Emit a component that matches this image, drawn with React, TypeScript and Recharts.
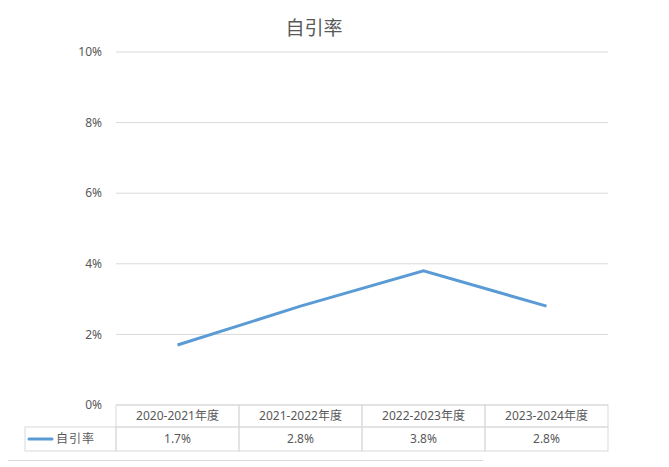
import React from 'react';
import { LineChart, Line, XAxis, YAxis, CartesianGrid } from 'recharts';

const categories = ['2020-2021年度', '2021-2022年度', '2022-2023年度', '2023-2024年度'];
const selfCitationRate = [1.7, 2.8, 3.8, 2.8];
const yTicks = [0, 2, 4, 6, 8, 10];
const seriesName = '自引率';
const title = '自引率';

const data = categories.map((c, i) => ({ category: c, value: selfCitationRate[i] }));

const FONT = "'Noto Sans', 'Noto Sans CJK SC', sans-serif";
const GRID = '#d9d9d9';
const TEXT = '#595959';
const LINE = '#5b9bd5';

const CELL_W = 123;
const TOP = 397;
const ROW1 = 22;
const ROW2 = 24;

const TableTick = (props: any) => {
  const { x, index, payload } = props;
  const left = x - CELL_W / 2;
  return (
    <g>
      <rect x={left} y={TOP} width={CELL_W} height={ROW1} fill="none" stroke={GRID} strokeWidth={1} />
      <rect x={left} y={TOP + ROW1} width={CELL_W} height={ROW2} fill="none" stroke={GRID} strokeWidth={1} />
      <text x={x} y={TOP + 15} textAnchor="middle" fontSize={12} fill={TEXT} fontFamily={FONT}>
        {payload.value}
      </text>
      <text x={x} y={TOP + ROW1 + 16} textAnchor="middle" fontSize={12} fill={TEXT} fontFamily={FONT}>
        {selfCitationRate[index].toFixed(1)}%
      </text>
      {index === 0 && (
        <g>
          <rect x={17} y={TOP + ROW1} width={left - 17} height={ROW2} fill="none" stroke={GRID} strokeWidth={1} />
          <line x1={21} y1={TOP + ROW1 + 12} x2={44} y2={TOP + ROW1 + 12} stroke={LINE} strokeWidth={3} strokeLinecap="round" />
          <text x={48} y={TOP + ROW1 + 16} fontSize={12} fill={TEXT} fontFamily={FONT} letterSpacing={1}>
            {seriesName}
          </text>
          <line x1={0} y1={452.5} x2={475} y2={452.5} stroke={GRID} strokeWidth={1} />
        </g>
      )}
    </g>
  );
};

export default function App() {
  return (
    <div style={{ width: 653, height: 455, position: 'relative' }}>
      <LineChart
        width={653}
        height={455}
        data={data}
        margin={{ top: 44, right: 53, bottom: 0, left: 0 }}
      >
        <text x={306} y={27} textAnchor="middle" fontSize={19} fill={TEXT} fontFamily={FONT}>
          {title}
        </text>
        <CartesianGrid vertical={false} stroke={GRID} strokeWidth={1} />
        <XAxis
          dataKey="category"
          scale="band"
          height={58}
          axisLine={false}
          tickLine={false}
          interval={0}
          tick={<TableTick />}
        />
        <YAxis
          width={108}
          domain={[0, 10]}
          ticks={yTicks}
          axisLine={false}
          tickLine={false}
          tickMargin={8}
          tickFormatter={(v: number) => `${v}%`}
          tick={{ fontSize: 12, fill: TEXT, fontFamily: FONT }}
        />
        <Line
          type="linear"
          dataKey="value"
          stroke={LINE}
          strokeWidth={3}
          dot={false}
          isAnimationActive={false}
        />
      </LineChart>
    </div>
  );
}
